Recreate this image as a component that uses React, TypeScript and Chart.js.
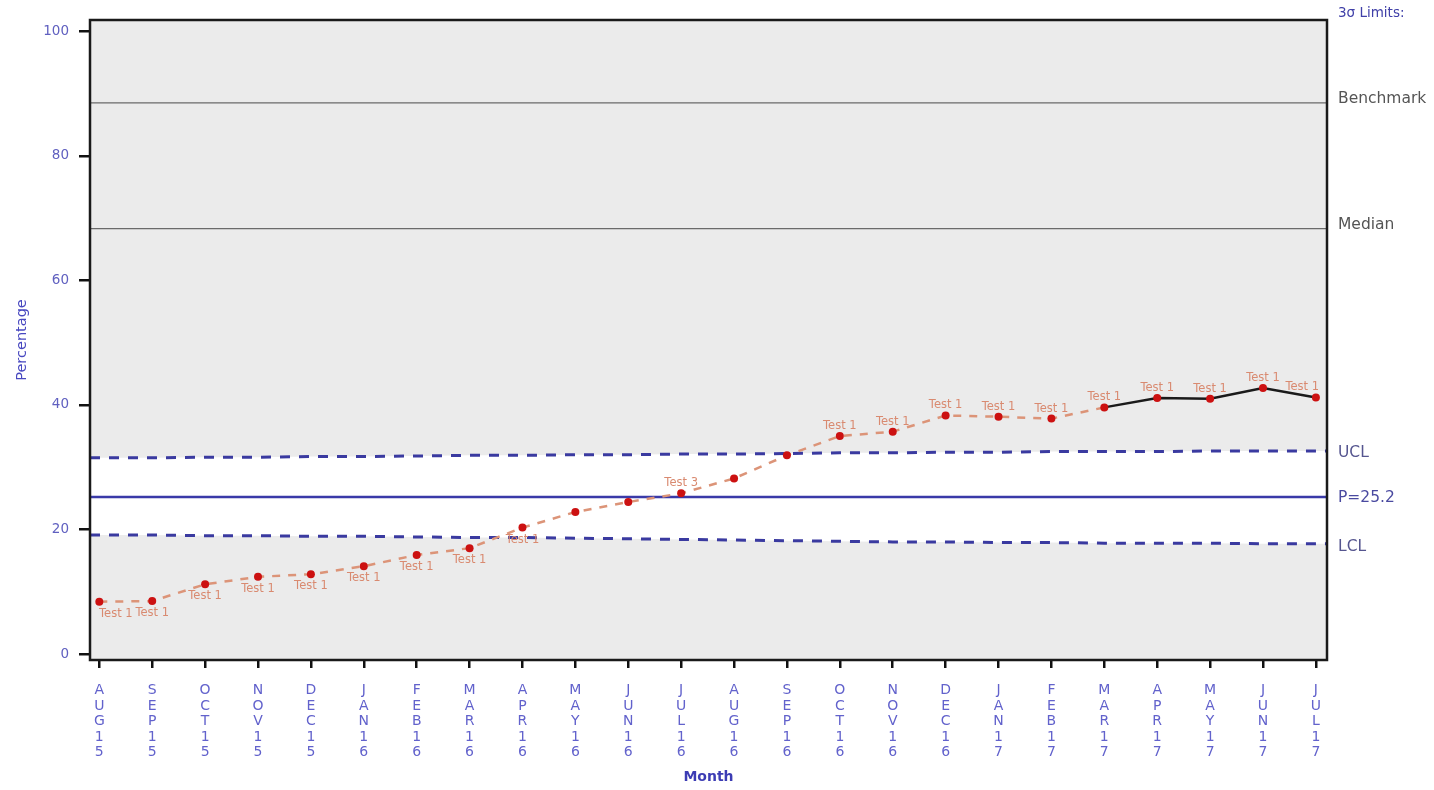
import React, { useEffect, useRef } from 'react';
import { Chart, registerables } from 'chart.js';

Chart.register(...registerables);

const months = ['AUG15', 'SEP15', 'OCT15', 'NOV15', 'DEC15', 'JAN16', 'FEB16', 'MAR16', 'APR16', 'MAY16', 'JUN16', 'JUL16', 'AUG16', 'SEP16', 'OCT16', 'NOV16', 'DEC16', 'JAN17', 'FEB17', 'MAR17', 'APR17', 'MAY17', 'JUN17', 'JUL17'];
const percentage = [8.4, 8.5, 11.2, 12.4, 12.8, 14.1, 15.9, 17.0, 20.3, 22.8, 24.4, 25.8, 28.2, 31.9, 35.0, 35.7, 38.3, 38.1, 37.8, 39.6, 41.1, 41.0, 42.7, 41.2];
const ucl = [31.5, 31.5, 31.6, 31.6, 31.7, 31.7, 31.8, 31.9, 31.9, 32.0, 32.0, 32.1, 32.1, 32.2, 32.3, 32.3, 32.4, 32.4, 32.5, 32.5, 32.5, 32.6, 32.6, 32.6];
const lcl = [19.1, 19.1, 19.0, 19.0, 18.9, 18.9, 18.8, 18.7, 18.7, 18.6, 18.5, 18.4, 18.3, 18.2, 18.1, 18.0, 18.0, 17.9, 17.9, 17.8, 17.8, 17.8, 17.7, 17.7];
const centerLine = 25.2;
const benchmark = 88.5;
const median = 68.3;
const yTicks = [0, 20, 40, 60, 80, 100];
const testLabels = ['Test 1', 'Test 1', 'Test 1', 'Test 1', 'Test 1', 'Test 1', 'Test 1', 'Test 1', 'Test 1', '', '', 'Test 3', '', '', 'Test 1', 'Test 1', 'Test 1', 'Test 1', 'Test 1', 'Test 1', 'Test 1', 'Test 1', 'Test 1', 'Test 1'];
const testSide = ['below', 'below', 'below', 'below', 'below', 'below', 'below', 'below', 'below', '', '', 'above', '', '', 'above', 'above', 'above', 'above', 'above', 'above', 'above', 'above', 'above', 'above'];
const solidFrom = 19;

const X_MIN = -0.176;
const X_MAX = 23.21;
const Y_MIN = -0.96;
const Y_MAX = 101.8;
const FONT = '"DejaVu Sans", Verdana, sans-serif';

const annotPlugin = {
  id: 'annot',
  beforeDraw(chart: any) {
    const { ctx, chartArea: a } = chart;
    ctx.save();
    ctx.fillStyle = '#ebebeb';
    ctx.fillRect(a.left, a.top, a.right - a.left, a.bottom - a.top);
    ctx.restore();
  },
  afterDatasetsDraw(chart: any) {
    const { ctx, chartArea: a, scales } = chart;
    const x = scales.x;
    const y = scales.y;
    ctx.save();
    // point test labels
    ctx.font = `11.5px ${FONT}`;
    ctx.fillStyle = '#d98a70';
    ctx.textAlign = 'center';
    ctx.textBaseline = 'middle';
    testLabels.forEach((t, i) => {
      if (!t) return;
      const px = x.getPixelForValue(i);
      const py = y.getPixelForValue(percentage[i]);
      const w = ctx.measureText(t).width;
      const cx = Math.min(Math.max(px, a.left + 9 + w / 2), a.right - 8 - w / 2);
      const cy = testSide[i] === 'below' ? py + 12 : py - 10;
      ctx.fillText(t, cx, cy);
    });
    // frame
    ctx.strokeStyle = '#1a1a1a';
    ctx.lineWidth = 2.5;
    ctx.strokeRect(a.left, a.top, a.right - a.left, a.bottom - a.top);
    // right labels
    const rx = a.right + 11;
    ctx.textAlign = 'left';
    ctx.font = `13.5px ${FONT}`;
    ctx.fillStyle = '#4040a8';
    ctx.fillText('3\u03C3 Limits:', rx, 13);
    ctx.font = `15.5px ${FONT}`;
    ctx.fillStyle = '#555555';
    ctx.fillText('Benchmark', rx, y.getPixelForValue(benchmark) - 4);
    ctx.fillText('Median', rx, y.getPixelForValue(median) - 4);
    ctx.fillStyle = '#55558f';
    ctx.fillText('UCL', rx, y.getPixelForValue(ucl[ucl.length - 1]) + 2);
    ctx.fillStyle = '#4a4aa0';
    ctx.fillText('P=' + centerLine.toFixed(1), rx, y.getPixelForValue(centerLine) + 1);
    ctx.fillStyle = '#55558f';
    ctx.fillText('LCL', rx, y.getPixelForValue(lcl[lcl.length - 1]) + 3);
    // axis titles
    ctx.textAlign = 'center';
    ctx.fillStyle = '#4848c0';
    ctx.font = `14.5px ${FONT}`;
    ctx.save();
    ctx.translate(22, (a.top + a.bottom) / 2);
    ctx.rotate(-Math.PI / 2);
    ctx.fillText('Percentage', 0, 0);
    ctx.restore();
    ctx.fillStyle = '#3c3cb4';
    ctx.font = `bold 14px ${FONT}`;
    ctx.fillText('Month', (a.left + a.right) / 2, 777);
    ctx.restore();
  },
};

export default function App() {
  const ref = useRef<HTMLCanvasElement | null>(null);
  useEffect(() => {
    if (!ref.current) return;
    const ext = (arr: number[]) => [
      { x: X_MIN, y: arr[0] },
      ...arr.map((v, i) => ({ x: i, y: v })),
      { x: X_MAX, y: arr[arr.length - 1] },
    ];
    const flat = (v: number) => [
      { x: X_MIN, y: v },
      { x: X_MAX, y: v },
    ];
    const chart = new Chart(ref.current, {
      type: 'line',
      data: {
        datasets: [
          {
            label: 'Percentage',
            data: percentage.map((v, i) => ({ x: i, y: v })),
            borderColor: '#dc9478',
            borderWidth: 2.5,
            borderDash: [8, 8],
            pointRadius: 4,
            pointBorderWidth: 0,
            pointBackgroundColor: '#cc1111',
            segment: {
              borderColor: (c: any) => (c.p0DataIndex >= solidFrom ? '#1a1a1a' : '#dc9478'),
              borderDash: (c: any) => (c.p0DataIndex >= solidFrom ? [] : [8, 8]),
            },
            fill: false,
            tension: 0,
          } as any,
          {
            label: 'UCL',
            data: ext(ucl),
            borderColor: '#3a3aa0',
            borderWidth: 3,
            borderDash: [10, 9],
            pointRadius: 0,
            fill: false,
          },
          {
            label: 'LCL',
            data: ext(lcl),
            borderColor: '#3a3aa0',
            borderWidth: 3,
            borderDash: [10, 9],
            pointRadius: 0,
            fill: '-1',
            backgroundColor: '#ffffff',
          },
          {
            label: 'P',
            data: flat(centerLine),
            borderColor: '#3a3aa8',
            borderWidth: 2.5,
            pointRadius: 0,
            fill: false,
          },
          {
            label: 'Benchmark',
            data: flat(benchmark),
            borderColor: '#6a6a6a',
            borderWidth: 1.3,
            pointRadius: 0,
            fill: false,
          },
          {
            label: 'Median',
            data: flat(median),
            borderColor: '#6a6a6a',
            borderWidth: 1.3,
            pointRadius: 0,
            fill: false,
          },
        ],
      },
      options: {
        animation: false,
        responsive: false,
        maintainAspectRatio: false,
        layout: { padding: { left: 0, right: 107, top: 20, bottom: 0 } },
        plugins: {
          legend: { display: false },
          tooltip: { enabled: false },
          filler: { drawTime: 'beforeDatasetsDraw' } as any,
        },
        scales: {
          x: {
            type: 'linear',
            min: X_MIN,
            max: X_MAX,
            afterBuildTicks: (s: any) => {
              s.ticks = months.map((_, i) => ({ value: i }));
            },
            afterFit: (s: any) => {
              s.height = 130;
            },
            ticks: {
              autoSkip: false,
              maxRotation: 0,
              minRotation: 0,
              padding: 15,
              color: '#6262cc',
              font: { family: FONT, size: 14, lineHeight: 1.1 },
              callback: (v: any) => {
                const m = months[Math.round(Number(v))];
                return m ? m.split('') : '';
              },
            },
            grid: { drawOnChartArea: false, drawTicks: true, tickLength: 8, tickColor: '#111', tickWidth: 2.5, lineWidth: 2.5 },
            border: { display: false },
          },
          y: {
            type: 'linear',
            min: Y_MIN,
            max: Y_MAX,
            afterBuildTicks: (s: any) => {
              s.ticks = yTicks.map((v) => ({ value: v }));
            },
            afterFit: (s: any) => {
              s.width = 90;
            },
            ticks: {
              padding: 10,
              color: '#6060c0',
              font: { family: FONT, size: 13.5 },
              callback: (v: any) => String(v),
            },
            grid: { drawOnChartArea: false, drawTicks: true, tickLength: 11, tickColor: '#111', tickWidth: 2.5, lineWidth: 2.5 },
            border: { display: false },
          },
        },
      },
      plugins: [annotPlugin],
    });
    return () => chart.destroy();
  }, []);
  return (
    <div style={{ position: 'fixed', left: 0, top: 0, width: 1434, height: 790, background: '#fff' }}>
      <canvas ref={ref} width={1434} height={790} style={{ width: 1434, height: 790, display: 'block' }} />
    </div>
  );
}
